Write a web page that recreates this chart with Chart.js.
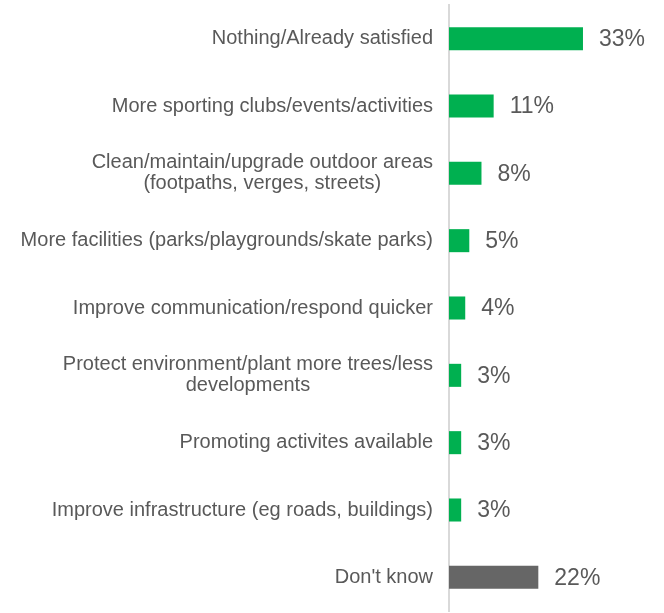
<!DOCTYPE html>
<html>
<head>
<meta charset="utf-8">
<script src="https://cdn.jsdelivr.net/npm/chart.js@4"></script>
<style>
html,body{margin:0;padding:0;background:#fff;}
#c{display:block;}
</style>
</head>
<body>
<canvas id="c" width="664" height="613"></canvas>
<script>
const categories = [
  ["Nothing/Already satisfied"],
  ["More sporting clubs/events/activities"],
  ["Clean/maintain/upgrade outdoor areas", "(footpaths, verges, streets)"],
  ["More facilities (parks/playgrounds/skate parks)"],
  ["Improve communication/respond quicker"],
  ["Protect environment/plant more trees/less", "developments"],
  ["Promoting activites available"],
  ["Improve infrastructure (eg roads, buildings)"],
  ["Don't know"]
];
const values = [33, 11, 8, 5, 4, 3, 3, 3, 22];
const barColors = ["#00B050","#00B050","#00B050","#00B050","#00B050","#00B050","#00B050","#00B050","#666666"];

const FONT = '"Liberation Sans", Arial, sans-serif';
const TEXT = '#595959';

const labelPlugin = {
  id: 'customLabels',
  afterDatasetsDraw(chart) {
    const ctx = chart.ctx;
    const ys = chart.scales.y;
    const xs = chart.scales.x;
    ctx.save();
    // category labels
    ctx.font = '20px ' + FONT;
    ctx.fillStyle = TEXT;
    ctx.textBaseline = 'middle';
    ctx.textAlign = 'center';
    const rightEdge = chart.chartArea.left - 16;
    const lh = 21;
    categories.forEach((lines, i) => {
      const yc = ys.getPixelForValue(i);
      const widest = Math.max(...lines.map(l => ctx.measureText(l).width));
      const cx = rightEdge - widest / 2;
      const y0 = yc - (lines.length - 1) * lh / 2;
      lines.forEach((l, j) => ctx.fillText(l, cx, y0 + j * lh));
    });
    // value labels
    ctx.font = '23px ' + FONT;
    ctx.textAlign = 'left';
    values.forEach((v, i) => {
      const x = xs.getPixelForValue(v) + 16;
      const y = ys.getPixelForValue(i) + 1;
      ctx.fillText(v + '%', x, y);
    });
    ctx.restore();
  }
};

new Chart(document.getElementById('c'), {
  type: 'bar',
  data: {
    labels: categories.map(l => l.join(' ')),
    datasets: [{
      data: values,
      backgroundColor: barColors,
      barPercentage: 0.342,
      categoryPercentage: 1.0
    }]
  },
  options: {
    indexAxis: 'y',
    responsive: false,
    animation: false,
    layout: { padding: { left: 449, right: 12, top: 5, bottom: 2 } },
    plugins: { legend: { display: false }, tooltip: { enabled: false } },
    scales: {
      x: { display: false, min: 0, max: 50 },
      y: {
        display: true,
        ticks: { display: false },
        grid: { display: true, drawOnChartArea: false, drawTicks: false },
        border: { display: true, color: '#d9d9d9', width: 2 }
      }
    }
  },
  plugins: [labelPlugin]
});
</script>
</body>
</html>
